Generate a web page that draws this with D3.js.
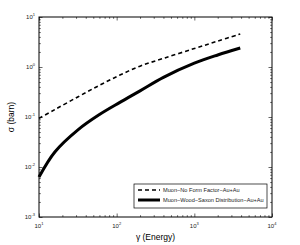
<!DOCTYPE html>
<head>
<meta charset="utf-8">
<script src="https://cdn.jsdelivr.net/npm/d3@7"></script>
<style>
body { margin: 0; background: #fff; }
text { font-family: "Liberation Sans", Arial, sans-serif; }
</style>
</head>
<body>
<script>
// gamma values
var gamma = [10, 16, 32, 60, 110, 200, 400, 1000, 2000, 3900];
// Muon - No Form Factor - Au+Au (dashed)
var sigmaNoFF = [0.094, 0.141, 0.255, 0.43, 0.69, 1.04, 1.49, 2.34, 3.3, 4.57];
// Muon - Wood-Saxon Distribution - Au+Au (solid)
var sigmaWS = [0.0063, 0.020, 0.056, 0.112, 0.196, 0.333, 0.62, 1.19, 1.74, 2.4];

var xExp = [1, 2, 3, 4];
var yExp = [-3, -2, -1, 0, 1];
var legendLabels = ["Muon\u2212No Form Factor\u2212Au+Au", "Muon\u2212Wood\u2212Saxon Distribution\u2212Au+Au"];

var W = 300, H = 245;
var L = 39, R = 272, T = 17, B = 217;

var svg = d3.select("body").append("svg")
    .attr("width", W)
    .attr("height", H);

var x = d3.scaleLog().domain([10, 1e4]).range([L, R]);
var y = d3.scaleLog().domain([1e-3, 10]).range([B, T]);

// minor ticks
var xMinor = [], yMinor = [];
xExp.slice(0, -1).forEach(function(e) {
    for (var k = 2; k < 10; k++) xMinor.push(k * Math.pow(10, e));
});
yExp.slice(0, -1).forEach(function(e) {
    for (var k = 2; k < 10; k++) yMinor.push(k * Math.pow(10, e));
});
var xMajor = xExp.map(function(e) { return Math.pow(10, e); });
var yMajor = yExp.map(function(e) { return Math.pow(10, e); });

function drawAxis(axis, tr) {
    var g = svg.append("g").attr("transform", tr).call(axis);
    g.select(".domain").remove();
    g.selectAll("line").attr("stroke", "#000").attr("stroke-width", 0.6);
    g.selectAll("text").remove();
}

// ticks pointing inward on all four sides
drawAxis(d3.axisBottom(x).tickValues(xMajor).tickSize(-3.5), "translate(0," + B + ")");
drawAxis(d3.axisBottom(x).tickValues(xMinor).tickSize(-1.8), "translate(0," + B + ")");
drawAxis(d3.axisTop(x).tickValues(xMajor).tickSize(-3.5), "translate(0," + T + ")");
drawAxis(d3.axisTop(x).tickValues(xMinor).tickSize(-1.8), "translate(0," + T + ")");
drawAxis(d3.axisLeft(y).tickValues(yMajor).tickSize(-3.5), "translate(" + L + ",0)");
drawAxis(d3.axisLeft(y).tickValues(yMinor).tickSize(-1.8), "translate(" + L + ",0)");
drawAxis(d3.axisRight(y).tickValues(yMajor).tickSize(-3.5), "translate(" + R + ",0)");
drawAxis(d3.axisRight(y).tickValues(yMinor).tickSize(-1.8), "translate(" + R + ",0)");

// box
svg.append("rect")
    .attr("x", L).attr("y", T)
    .attr("width", R - L).attr("height", B - T)
    .attr("fill", "none")
    .attr("stroke", "#000")
    .attr("stroke-width", 1);

// tick labels 10^n
function powLabel(px, py, e, anchor) {
    var t = svg.append("text")
        .attr("x", px).attr("y", py)
        .attr("text-anchor", anchor)
        .attr("font-size", "6px")
        .attr("fill", "#222");
    t.append("tspan").text("10");
    t.append("tspan").attr("dy", -3).attr("font-size", "4px").text(e);
}
xExp.forEach(function(e) {
    powLabel(x(Math.pow(10, e)), B + 11, e, "middle");
});
yExp.forEach(function(e) {
    powLabel(L - 4, y(Math.pow(10, e)) + 2, e, "end");
});

// axis titles
svg.append("text")
    .attr("x", (L + R) / 2).attr("y", 240)
    .attr("text-anchor", "middle")
    .attr("font-size", "8.5px")
    .text("\u03b3 (Energy)");
svg.append("text")
    .attr("transform", "translate(14," + ((T + B) / 2) + ") rotate(-90)")
    .attr("text-anchor", "middle")
    .attr("font-size", "8.5px")
    .text("\u03c3 (barn)");

// curves
var line = d3.line()
    .x(function(d) { return x(d[0]); })
    .y(function(d) { return y(d[1]); })
    .curve(d3.curveCatmullRom);

svg.append("path")
    .datum(d3.zip(gamma, sigmaNoFF))
    .attr("d", line)
    .attr("fill", "none")
    .attr("stroke", "#000")
    .attr("stroke-width", 1.6)
    .attr("stroke-dasharray", "4,3");

svg.append("path")
    .datum(d3.zip(gamma, sigmaWS))
    .attr("d", line)
    .attr("fill", "none")
    .attr("stroke", "#000")
    .attr("stroke-width", 3);

// legend
var lg = svg.append("g");
lg.append("rect")
    .attr("x", 134).attr("y", 184)
    .attr("width", 133).attr("height", 24)
    .attr("fill", "#fff")
    .attr("stroke", "#000")
    .attr("stroke-width", 0.7);
lg.append("line")
    .attr("x1", 138).attr("x2", 160).attr("y1", 190).attr("y2", 190)
    .attr("stroke", "#000").attr("stroke-width", 1.6)
    .attr("stroke-dasharray", "4,3");
lg.append("line")
    .attr("x1", 138).attr("x2", 160).attr("y1", 200).attr("y2", 200)
    .attr("stroke", "#000").attr("stroke-width", 3);
legendLabels.forEach(function(s, i) {
    lg.append("text")
        .attr("x", 163).attr("y", 192 + i * 10)
        .attr("font-size", "5.6px")
        .attr("fill", "#222")
        .text(s);
});
</script>
</body>
